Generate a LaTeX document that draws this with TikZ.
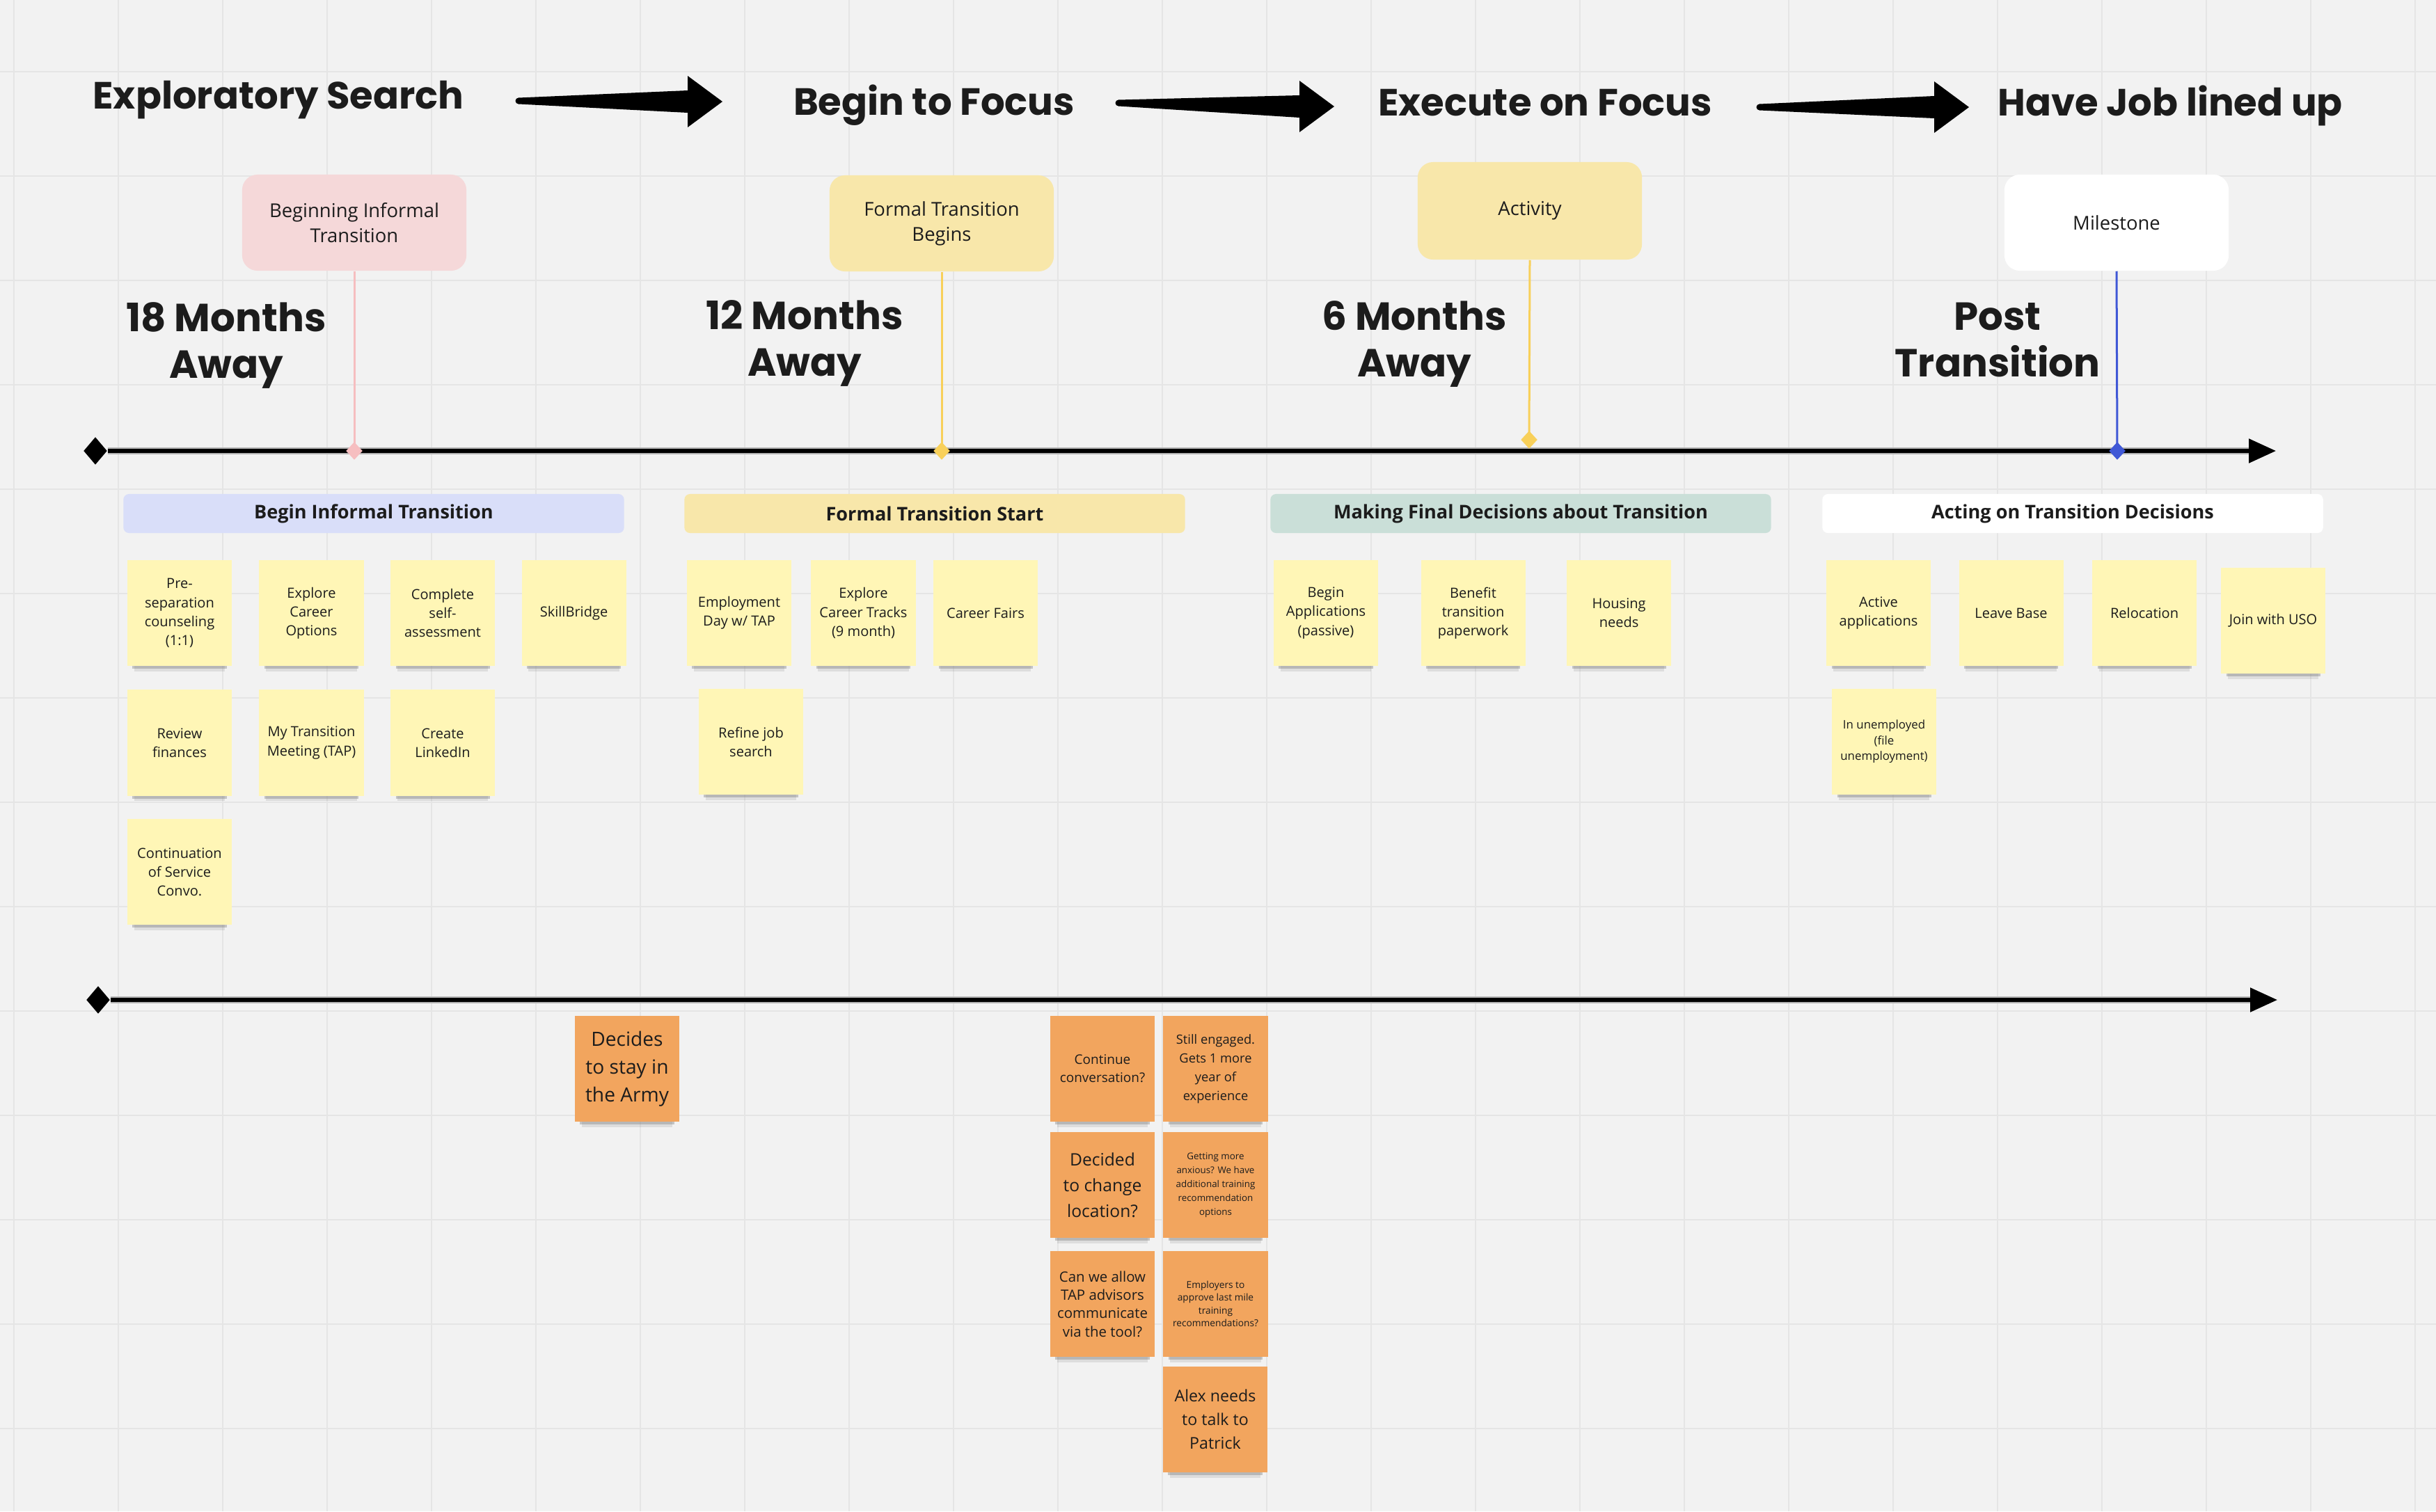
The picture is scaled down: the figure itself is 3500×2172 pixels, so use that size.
\documentclass[tikz,border=0pt]{standalone}
\usepackage{fontspec}
\setmainfont{Open Sans}
\newfontfamily\headfont{Poppins}
\usepackage{xcolor}
\definecolor{boardbg}{RGB}{242,242,242}
\definecolor{boardgrid}{RGB}{229,229,229}
\definecolor{inkdark}{RGB}{28,28,28}
\definecolor{notepink}{RGB}{245,216,217}
\definecolor{linepink}{RGB}{246,190,192}
\definecolor{noteamber}{RGB}{248,231,170}
\definecolor{lineamber}{RGB}{248,208,90}
\definecolor{lineblue}{RGB}{64,88,214}
\definecolor{barlavender}{RGB}{217,222,249}
\definecolor{barmint}{RGB}{202,223,216}
\definecolor{stickyyellow}{RGB}{255,246,182}
\definecolor{stickyorange}{RGB}{242,165,94}
\usepackage{tikz}
\usetikzlibrary{positioning,arrows.meta,shapes.geometric,shadows,calc}

\tikzset{
  headline/.style={font=\headfont\bfseries\fontsize{15.5}{18}\selectfont, text=inkdark, inner sep=0pt, anchor=base},
  monthlabel/.style={font=\headfont\bfseries\fontsize{16}{18.8}\selectfont, align=center, text=inkdark, inner sep=0pt, anchor=base},
  callout/.style={rounded corners=2.2mm, minimum width=32.2mm, minimum height=13.8mm, align=center,
                  font=\fontsize{7.8}{10.2}\selectfont, text=inkdark},
  phasebar/.style={rounded corners=0.8mm, minimum width=71.9mm, minimum height=5.6mm,
                   font=\bfseries\fontsize{7.7}{8.5}\selectfont, text=inkdark},
  sticky/.style={minimum width=15mm, minimum height=15.2mm, inner sep=0.6mm, align=center, text=inkdark,
                 font=\fontsize{5.7}{7.7}\selectfont,
                 drop shadow={shadow xshift=0mm, shadow yshift=-2mm, opacity=0.18, shadow scale=0.87},
                 drop shadow={shadow xshift=0mm, shadow yshift=-1.3mm, opacity=0.4, shadow scale=0.9}},
  yellownote/.style={sticky, fill=stickyyellow},
  orangenote/.style={sticky, fill=stickyorange},
  pin/.style={diamond, minimum width=2.4mm, minimum height=2.6mm, inner sep=0pt},
  railstart/.style={diamond, fill=black, minimum width=3.4mm, minimum height=4mm, inner sep=0pt},
  timeline/.style={line width=0.55mm, -{Triangle[length=3.9mm, width=3.4mm]}},
  railglow/.style={line width=0.95mm, gray!60},
}

% tapered flow arrow between two named coordinates
\newcommand\flowarrow[2]{%
  \fill[black] ($(#1)+(0,-4.5)$) -- ($(#2)+(-50,-16)$) -- ($(#2)+(-50,-37)$) -- (#2)
    -- ($(#2)+(-50,37)$) -- ($(#2)+(-50,16)$) -- ($(#1)+(0,4.5)$) -- cycle;
  \fill[black] (#1) circle[radius=4.5];}

\begin{document}
\begin{tikzpicture}[x=0.01cm, y=-0.01cm]
\useasboundingbox (0,0) rectangle (3500,2172);
\fill[boardbg] (0,0) rectangle (3500,2172);
\foreach \gx in {20,170,...,3470}
  \draw[boardgrid, line width=0.2mm] (\gx,0) -- (\gx,2172);
\foreach \gy in {103,253,...,2100}
  \draw[boardgrid, line width=0.2mm] (0,\gy) -- (3500,\gy);

% phases
\node[headline] (explore) at (400,156) {Exploratory Search};
\node[headline] (focus) at (1342,165) {Begin to Focus};
\node[headline] (execute) at (2220,166) {Execute on Focus};
\node[headline] (joblined) at (3118,166) {Have Job lined up};
\coordinate (a1s) at (745,145);  \coordinate (a1e) at (1038,146);
\coordinate (a2s) at (1607,148); \coordinate (a2e) at (1917,153);
\coordinate (a3s) at (2528,154); \coordinate (a3e) at (2829,154);
\flowarrow{a1s}{a1e}
\flowarrow{a2s}{a2e}
\flowarrow{a3s}{a3e}

% legend boxes
\node[callout, fill=notepink] (informal) at (509,320) {Beginning Informal\\Transition};
\node[callout, fill=noteamber] (formal) at (1353,321) {Formal Transition\\Begins};
\node[callout, fill=noteamber, minimum height=14mm] (activity) at (2198,303) {Activity};
\node[callout, fill=white] (milestone) at (3041,320) {Milestone};

\node[monthlabel] (away18) at (325,543) {18 Months\\Away};
\node[monthlabel] (away12) at (1156,540) {12 Months\\Away};
\node[monthlabel] (away6) at (2032,541) {6 Months\\Away};
\node[monthlabel] (posttr) at (2870,541) {Post\\Transition};

% upper timeline
\node[railstart] (t1s) at (137,648) {};
\coordinate (t1e) at (3270,648);
\draw[railglow] (t1s) -- ($(t1e)+(-39,0)$);
\draw[timeline] (t1s) -- (t1e);
\node[pin, fill=linepink] (pin1) at (509,648) {};
\node[pin, fill=lineamber] (pin2) at (1353,648) {};
\node[pin, fill=lineamber] (pin3) at (2197,632) {};
\node[pin, fill=lineblue] (pin4) at (3042,648) {};
\draw[linepink, line width=0.3mm] (informal.south) -- (pin1.center);
\draw[lineamber, line width=0.3mm] (formal.south) -- (pin2.center);
\draw[lineamber, line width=0.3mm] (activity.south) -- (pin3.center);
\draw[lineblue, line width=0.3mm] (milestone.south) -- (pin4.center);

% phase bars
\node[phasebar, fill=barlavender] (bar1) at (537,738) {Begin Informal Transition};
\node[phasebar, fill=noteamber] (bar2) at (1343,738) {Formal Transition Start};
\node[phasebar, fill=barmint] (bar3) at (2185,738) {Making Final Decisions about Transition};
\node[phasebar, fill=white] (bar4) at (2978,738) {Acting on Transition Decisions};

% begin informal transition
\node[yellownote] (preSep) at (258,881) {Pre-\\separation\\counseling\\(1:1)};
\node[yellownote, right=3.8mm of preSep] (careerOpt) {Explore\\Career\\Options};
\node[yellownote, right=3.7mm of careerOpt] (selfAssess) {Complete\\self-\\assessment};
\node[yellownote, right=3.7mm of selfAssess] (skillBridge) {SkillBridge};
\node[yellownote, below=3.3mm of preSep] (finances) {Review\\finances};
\node[yellownote, below=3.3mm of careerOpt] (tapMeeting) {My Transition\\Meeting (TAP)};
\node[yellownote, below=3.3mm of selfAssess] (linkedIn) {Create\\LinkedIn};
\node[yellownote, below=3.2mm of finances] (serviceConvo) {Continuation\\of Service\\Convo.};

% formal transition start
\node[yellownote] (employDay) at (1062,881) {Employment\\Day w/ TAP};
\node[yellownote, right=2.7mm of employDay] (careerTracks) {Explore\\Career Tracks\\(9 month)};
\node[yellownote, right=2.4mm of careerTracks] (careerFairs) {Career Fairs};
\node[yellownote] (refineJob) at (1079,1066) {Refine job\\search};

% making final decisions
\node[yellownote] (beginApps) at (1905,881) {Begin\\Applications\\(passive)};
\node[yellownote, right=6mm of beginApps] (benefitPaper) {Benefit\\transition\\paperwork};
\node[yellownote, right=5.8mm of benefitPaper] (housing) {Housing\\needs};

% acting on decisions
\node[yellownote] (activeApps) at (2699,881) {Active\\applications};
\node[yellownote, right=3.9mm of activeApps] (leaveBase) {Leave Base};
\node[yellownote, right=4mm of leaveBase] (relocation) {Relocation};
\node[yellownote] (joinUSO) at (3266,892) {Join with USO};
\node[yellownote, font=\fontsize{4.8}{6.4}\selectfont] (unemployed) at (2707,1066) {In unemployed\\(file\\unemployment)};

% lower timeline
\node[railstart] (t2s) at (141,1437) {};
\coordinate (t2e) at (3272,1437);
\draw[railglow] (t2s) -- ($(t2e)+(-39,0)$);
\draw[timeline] (t2s) -- (t2e);

\node[orangenote, font=\fontsize{8}{11.4}\selectfont] (stayArmy) at (901,1536) {Decides\\to stay in\\the Army};
\node[orangenote, font=\fontsize{5.4}{7.4}\selectfont] (continueConvo) at (1584,1536) {Continue\\conversation?};
\node[orangenote, font=\fontsize{5.2}{7.7}\selectfont, right=1.1mm of continueConvo] (stillEngaged) {Still engaged.\\Gets 1 more\\year of\\experience};
\node[orangenote, font=\fontsize{7}{10.5}\selectfont] (changeLoc) at (1584,1703) {Decided\\to change\\location?};
\node[orangenote, font=\fontsize{3.8}{5.7}\selectfont, right=1.1mm of changeLoc] (anxious) {Getting more\\anxious? We have\\additional training\\recommendation\\options};
\node[orangenote, font=\fontsize{5.8}{7.5}\selectfont] (tapAdvisors) at (1584,1874) {Can we allow\\TAP advisors\\communicate\\via the tool?};
\node[orangenote, font=\fontsize{3.9}{5.2}\selectfont, right=1.1mm of tapAdvisors] (employers) {Employers to\\approve last mile\\training\\recommendations?};
\node[orangenote, font=\fontsize{6.6}{9.7}\selectfont] (alexPatrick) at (1746,2040) {Alex needs\\to talk to\\Patrick};
\end{tikzpicture}
\end{document}
